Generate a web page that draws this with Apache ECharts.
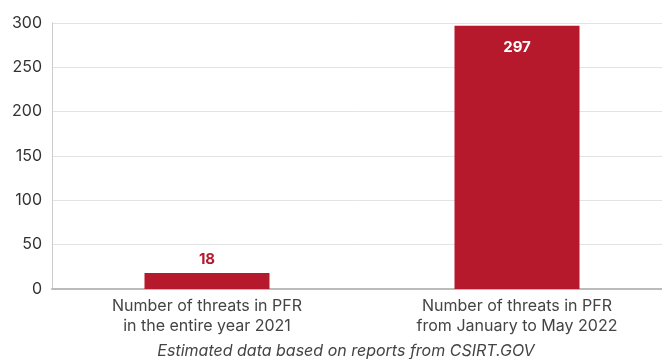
<!DOCTYPE html>
<html>
<head>
<meta charset="utf-8">
<script src="https://cdn.jsdelivr.net/npm/echarts@6/dist/echarts.min.js"></script>
<style>
  html, body { margin: 0; padding: 0; background: #fff; }
  #chart { width: 662px; height: 359px; }
</style>
</head>
<body>
<div id="chart"></div>
<script>
const categories = [
  "Number of threats in PFR\nin the entire year 2021",
  "Number of threats in PFR\nfrom January to May 2022"
];
const threats = [18, 297];
const yTicks = { min: 0, max: 300, interval: 50 };
const caption = "Estimated data based on reports from CSIRT.GOV";

const barColor = "#b5192b";
const chart = echarts.init(document.getElementById("chart"));
chart.setOption({
  animation: false,
  textStyle: { fontFamily: "Inter" },
  title: {
    text: caption,
    left: 341,
    textAlign: "center",
    top: 338,
    textStyle: { fontSize: 16, fontStyle: "italic", fontWeight: "normal", color: "#444" }
  },
  grid: { left: 52, width: 620, top: 23, bottom: 70, outerBoundsMode: "none" },
  xAxis: {
    type: "category",
    data: categories,
    axisTick: { show: false },
    axisLine: { lineStyle: { color: "#bbb", width: 2 } },
    axisLabel: { color: "#444", fontSize: 16, lineHeight: 20, margin: 7 }
  },
  yAxis: {
    type: "value",
    min: yTicks.min,
    max: yTicks.max,
    interval: yTicks.interval,
    axisLine: { show: true, lineStyle: { color: "#ccc", width: 1 } },
    splitLine: { lineStyle: { color: "#e3e3e3", width: 1 } },
    axisLabel: { color: "#333", fontSize: 16, margin: 10, padding: [6, 0, 0, 0] }
  },
  series: [{
    type: "bar",
    data: threats.map(function (v, i) {
      return {
        value: v,
        label: i === 0
          ? { position: "top", color: barColor, distance: 6 }
          : { position: "insideTop", color: "#fff", distance: 14 }
      };
    }),
    barWidth: 125,
    itemStyle: { color: barColor },
    label: { show: true, fontSize: 15, fontWeight: "bold" }
  }]
});
</script>
</body>
</html>
